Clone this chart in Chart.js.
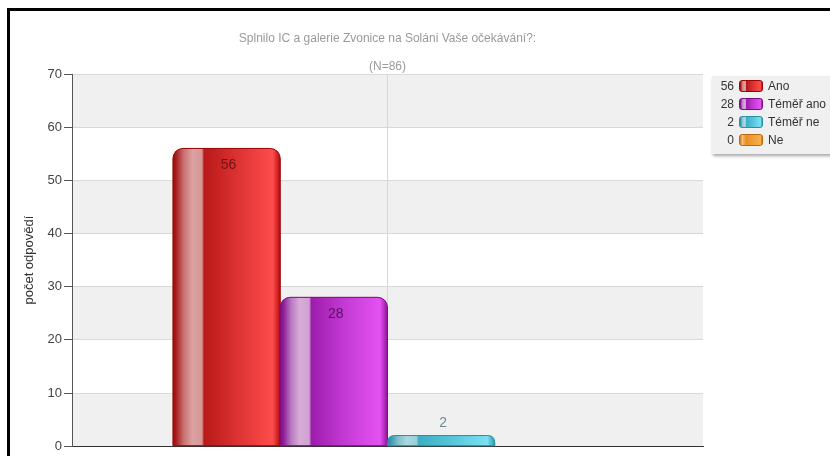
<!DOCTYPE html>
<html>
<head>
<meta charset="utf-8">
<script src="https://cdn.jsdelivr.net/npm/chart.js@4.4.1/dist/chart.umd.min.js"></script>
<style>
    body { margin: 0; background: #fff; }
    #wrap { position: relative; width: 830px; height: 456px; overflow: hidden; font-family: "Liberation Sans", Arial, sans-serif; }
    #frame { position: absolute; left: 7px; top: 8px; width: 900px; height: 600px; border-left: 3px solid #000; border-top: 3px solid #000; }
    #chart { position: absolute; left: 0; top: 0; }
    #legend { position: absolute; left: 712px; top: 76px; width: 140px; height: 78px; background: #f0f0f0; box-shadow: 1px 2px 3px rgba(0,0,0,0.35); }
    .lg-row { position: absolute; left: 0; width: 140px; height: 14px; font-size: 12px; color: #333; line-height: 14px; }
    .lg-num { position: absolute; right: 118px; top: 0; text-align: right; }
    .lg-box { position: absolute; left: 27px; top: 1px; width: 22px; height: 10px; border-radius: 3px; border: 1px solid; }
    .lg-txt { position: absolute; left: 56px; top: 0; white-space: nowrap; }
</style>
</head>
<body>
<div id="wrap">
    <canvas id="chart" width="830" height="456"></canvas>
    <div id="frame"></div>
    <div id="legend"></div>
</div>
<script>
// Data
const chartTitle = 'Splnilo IC a galerie Zvonice na Soláni Vaše očekávání?:';
const chartSubtitle = '(N=86)';
const axisTitle = 'počet odpovědí';
const groupLabels = [''];
const categories = ['Ano', 'Téměř ano', 'Téměř ne', 'Ne'];
const counts = [56, 28, 2, 0];
const yTicks = [0, 10, 20, 30, 40, 50, 60, 70];

// Styles per series (glossy horizontal gradients)
const palette = [
    { edge: '#9a0606', label: '#6e1616', mid: '#d02828',
      stops: [[0, '#9a0808'], [0.03, '#a82020'], [0.1, '#c87070'], [0.18, '#dca2a2'], [0.27, '#d69696'], [0.29, '#b81818'], [0.6, '#dc3232'], [0.93, '#ff4c4c'], [1, '#b40c0c']] },
    { edge: '#7c0c84', label: '#561466', mid: '#c030d0',
      stops: [[0, '#7e0e88'], [0.03, '#8e1e98'], [0.1, '#b878c0'], [0.18, '#d8acd8'], [0.27, '#d0a2d4'], [0.29, '#9c1cac'], [0.6, '#c43ad4'], [0.93, '#e452f2'], [1, '#8e1496']] },
    { edge: '#2a8ea4', label: '#6a8c98', mid: '#50c0d8',
      stops: [[0, '#2c8ea4'], [0.03, '#3a98ae'], [0.1, '#80c0ce'], [0.18, '#aad8e0'], [0.27, '#9ad0da'], [0.29, '#3eaec6'], [0.6, '#56c6dc'], [0.93, '#7ae2f2'], [1, '#3098ae']] },
    { edge: '#c06a10', label: '#7a4a10', mid: '#f0a040',
      stops: [[0, '#c87418'], [0.1, '#f4c080'], [0.28, '#e8901e'], [0.93, '#f8b050'], [1, '#c87418']] }
];

const fontFamily = '"Liberation Sans", Arial, sans-serif';

// Legend (value, swatch, name)
const legendEl = document.getElementById('legend');
categories.forEach((name, i) => {
    const p = palette[i];
    const grad = 'linear-gradient(to right, ' + p.stops.map(s => s[1] + ' ' + (s[0] * 100) + '%').join(', ') + ')';
    const row = document.createElement('div');
    row.className = 'lg-row';
    row.style.top = (3 + i * 18) + 'px';
    row.innerHTML = `<span class="lg-num">${counts[i]}</span>` +
        `<span class="lg-box" style="background:${grad};border-color:${p.edge}"></span>` +
        `<span class="lg-txt">${name}</span>`;
    legendEl.appendChild(row);
});

// Alternating bands + titles
const bandsPlugin = {
    id: 'bands',
    beforeDraw(chart) {
        const { ctx, chartArea } = chart;
        const y = chart.scales.y;
        ctx.save();
        ctx.fillStyle = '#f0f0f0';
        for (let k = 0; k < yTicks.length - 1; k += 2) {
            const top = y.getPixelForValue(yTicks[k + 1]);
            const bot = y.getPixelForValue(yTicks[k]);
            ctx.fillRect(chartArea.left, top, chartArea.right - chartArea.left, bot - top);
        }
        ctx.restore();
    },
    afterDraw(chart) {
        const { ctx, chartArea } = chart;
        const cx = (chartArea.left + chartArea.right) / 2;
        ctx.save();
        ctx.fillStyle = '#9a9a9a';
        ctx.font = '12px ' + fontFamily;
        ctx.textAlign = 'center';
        ctx.textBaseline = 'middle';
        ctx.fillText(chartTitle, cx, 39);
        ctx.fillText(chartSubtitle, cx, 67);
        ctx.restore();
    }
};

// Glossy bar fill and value labels
const glossPlugin = {
    id: 'gloss',
    afterDatasetsDraw(chart) {
        const ctx = chart.ctx;
        chart.data.datasets.forEach((ds, i) => {
            const meta = chart.getDatasetMeta(i);
            const p = palette[i];
            meta.data.forEach((bar, j) => {
                const { x, y, base, width } = bar.getProps(['x', 'y', 'base', 'width'], true);
                const h = base - y;
                const l = x - width / 2, r = x + width / 2;
                if (h > 0.5) {
                    const rad = Math.min(10, h * 0.7, width / 2);
                    const g = ctx.createLinearGradient(l, 0, r, 0);
                    p.stops.forEach(s => g.addColorStop(s[0], s[1]));
                    ctx.save();
                    ctx.beginPath();
                    ctx.moveTo(l, base);
                    ctx.lineTo(l, y + rad);
                    ctx.arcTo(l, y, l + rad, y, rad);
                    ctx.lineTo(r - rad, y);
                    ctx.arcTo(r, y, r, y + rad, rad);
                    ctx.lineTo(r, base);
                    ctx.closePath();
                    ctx.fillStyle = g;
                    ctx.fill();
                    ctx.strokeStyle = p.edge;
                    ctx.lineWidth = 1;
                    ctx.stroke();
                    ctx.restore();
                }
                const v = ds.data[j];
                if (v > 0) {
                    ctx.save();
                    ctx.font = '14px ' + fontFamily;
                    ctx.textAlign = 'center';
                    ctx.textBaseline = 'middle';
                    ctx.fillStyle = p.label;
                    const ty = h > 25 ? y + 17 : y - 12;
                    ctx.fillText(String(v), x + 2, ty);
                    ctx.restore();
                }
            });
        });
    }
};

new Chart(document.getElementById('chart'), {
    type: 'bar',
    data: {
        labels: groupLabels,
        datasets: categories.map((name, i) => ({
            label: name,
            data: [counts[i]],
            backgroundColor: palette[i].mid,
            borderWidth: 0,
            borderRadius: { topLeft: 10, topRight: 10 },
            barPercentage: 1,
            categoryPercentage: 0.68
        }))
    },
    options: {
        responsive: false,
        devicePixelRatio: 1,
        animation: false,
        layout: { padding: { left: 10, right: 127, top: 74, bottom: 0 } },
        plugins: {
            legend: { display: false },
            title: { display: false },
            tooltip: { enabled: false }
        },
        scales: {
            x: {
                ticks: { display: false },
                grid: { offset: false, color: '#d6d6d6', drawTicks: false },
                border: { color: '#333', width: 1 },
                afterFit: (s) => { s.height = 9; }
            },
            y: {
                min: yTicks[0],
                max: yTicks[yTicks.length - 1],
                afterBuildTicks: (s) => { s.ticks = yTicks.map(v => ({ value: v })); },
                ticks: { color: '#444', padding: 2, font: { family: fontFamily, size: 13 } },
                grid: { color: '#d9d9d9', tickColor: '#555', tickLength: 8 },
                border: { color: '#555', width: 1 },
                title: {
                    display: true, text: axisTitle, color: '#333',
                    font: { family: fontFamily, size: 13 }, padding: { top: 12, bottom: 0 }
                },
                afterFit: (s) => { s.width = 62; }
            }
        }
    },
    plugins: [bandsPlugin, glossPlugin]
});
</script>
</body>
</html>
